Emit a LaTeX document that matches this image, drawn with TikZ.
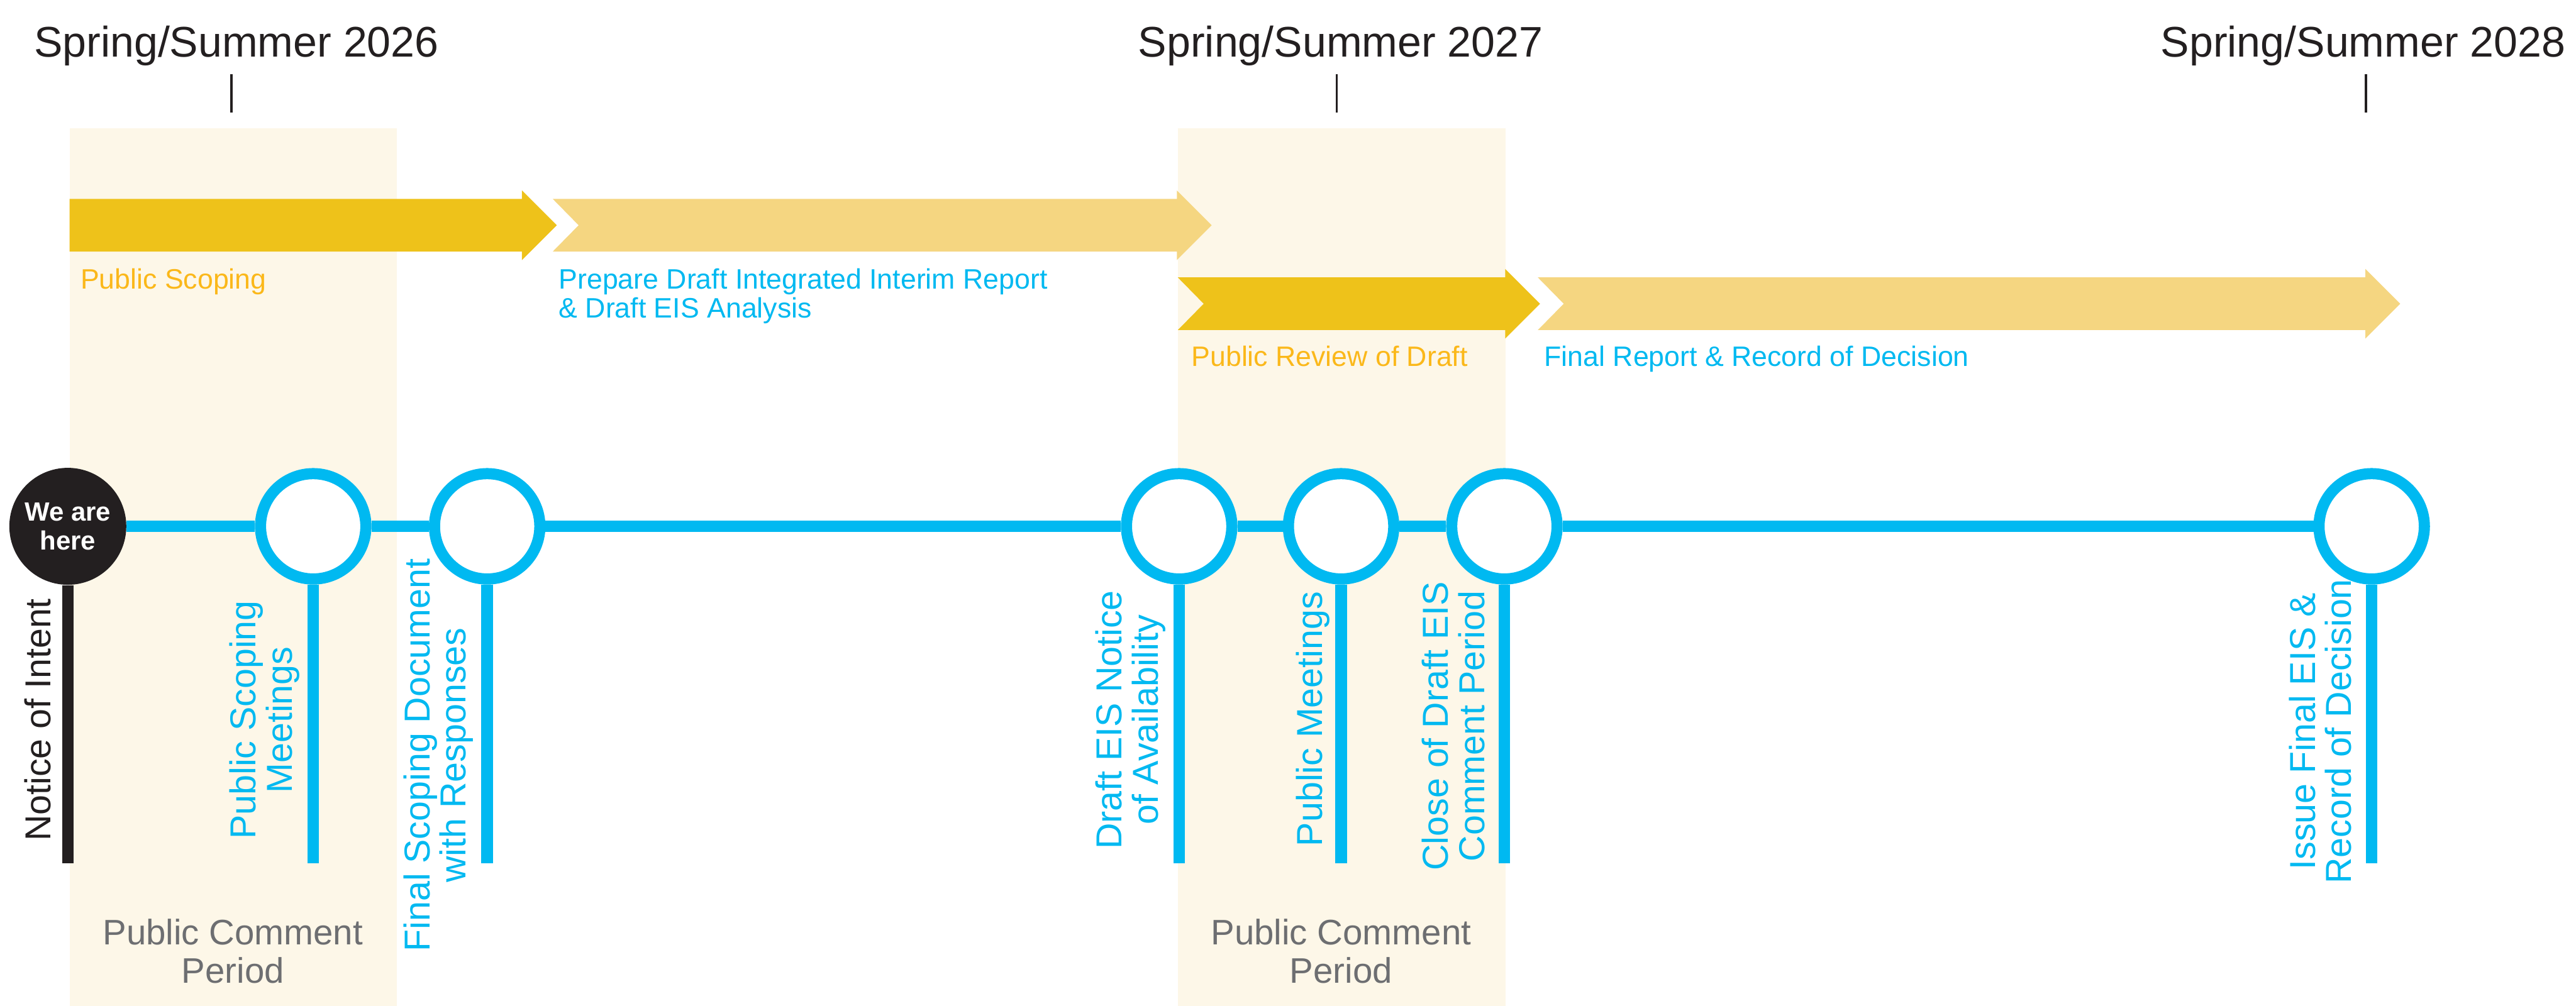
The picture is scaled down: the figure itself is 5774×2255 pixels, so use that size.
\documentclass[tikz,border=0pt]{standalone}
\usepackage{fontspec}
\setmainfont{Liberation Sans}
\usetikzlibrary{calc}

\definecolor{trackblue}{HTML}{00B9F1}
\definecolor{phasedark}{HTML}{EEC21A}
\definecolor{phaselight}{HTML}{F5D681}
\definecolor{phasetext}{HTML}{FBB81A}
\definecolor{commentshade}{HTML}{FDF7E8}
\definecolor{commentgray}{HTML}{6D6E71}
\definecolor{inkblack}{HTML}{231F20}

% phase bar: [fill](left x : head base x : centre y : notch depth)
\def\phasebar[#1](#2:#3:#4:#5){\fill[#1] (#2,#4-59) -- (#3,#4-59) -- (#3,#4-78) -- (#3+78,#4) -- (#3,#4+78) -- (#3,#4+59) -- (#2,#4+59) -- (#2+#5,#4) -- cycle;}

\tikzset{
	ring/.style={circle, draw=trackblue, line width=0.25cm, fill=white, minimum size=2.36cm, inner sep=0pt},
	here/.style={circle, fill=inkblack, minimum size=2.62cm, inner sep=0pt, text=white, align=center, font=\bfseries\fontsize{16.8}{18.5}\selectfont},
	track/.style={trackblue, line width=0.26cm},
	stem/.style={trackblue, line width=0.26cm},
	milestone/.style={rotate=90, anchor=north, inner sep=0pt, align=center, text=trackblue, font=\fontsize{23}{23}\selectfont},
	phaselabel/.style={anchor=base west, inner sep=0pt, align=left, font=\fontsize{17.9}{18.2}\selectfont},
	season/.style={anchor=base, inner sep=0pt, text=inkblack, font=\fontsize{27.3}{30}\selectfont},
	seasontick/.style={inkblack, line width=0.05cm},
	commentlabel/.style={anchor=north, inner sep=0pt, align=center, text=commentgray, font=\fontsize{22.6}{24.2}\selectfont},
}

\begin{document}
\begin{tikzpicture}[x=0.01cm, y=-0.01cm]
		%%%%% START %%%%%
		\fill[white] (0,0) rectangle (5774,2255);
		\useasboundingbox (0,0) rectangle (5774,2255);
		
		% comment periods
		\fill[commentshade] (156,288) rectangle (889,2255);
		\fill[commentshade] (2640,288) rectangle (3375,2255);
		
		% seasons
		\node[season] (s26) at (530,127) {Spring/Summer 2026};
		\node[season] (s27) at (3005,127) {Spring/Summer 2027};
		\node[season] (s28) at (5297,127) {Spring/Summer 2028};
		\coordinate (tick26) at (519,167);
		\coordinate (tick27) at (2996,167);
		\coordinate (tick28) at (5303,167);
		\foreach \t in {tick26,tick27,tick28}
			\draw[seasontick] (\t) -- ++(0,86);
		
		% phases
		\phasebar[phasedark](156:1170:505:0)
		\phasebar[phaselight](1239:2638:505:58)
		\phasebar[phasedark](2640:3374:681:58)
		\phasebar[phaselight](3447:5302:681:58)
		
		\node[phaselabel, text=phasetext] (ps) at (180,648) {Public Scoping};
		\node[phaselabel, text=trackblue, anchor=north west] (pd) at (1252,602) {Prepare Draft Integrated Interim Report\\\& Draft EIS Analysis};
		\node[phaselabel, text=phasetext] (pr) at (2670,821) {Public Review of Draft};
		\node[phaselabel, text=trackblue] (fr) at (3461,821) {Final Report \& Record of Decision};
		
		% timeline
		\coordinate (foot) at (0,1935);
		\node[here] (c0) at (152,1180) {We are\\here};
		\foreach \n/\x in {1/702,2/1092,3/2643,4/3006,5/3372,6/5316}
			\node[ring] (c\n) at (\x,1180) {};
		\foreach \a/\b in {0/1,1/2,2/3,3/4,4/5,5/6}
			\draw[track] (c\a) -- (c\b);
		\draw[stem, inkblack] (c0.south) -- (c0.south |- foot);
		\foreach \n in {1,...,6}
			\draw[stem] (c\n.south) -- (c\n.south |- foot);
		
		\node[milestone, text=inkblack] (m0) at (54,1614) {Notice of Intent};
		\node[milestone] (m1) at (514,1614) {Public Scoping\\Meetings};
		\node[milestone] (m2) at (904,1693) {Final Scoping Document\\with Responses};
		\node[milestone] (m3) at (2455,1614) {Draft EIS Notice\\of Availability};
		\node[milestone] (m4) at (2904,1612) {Public Meetings};
		\node[milestone] (m5) at (3187,1628) {Close of Draft EIS\\Comment Period};
		\node[milestone] (m6) at (5130,1640) {Issue Final EIS \&\\Record of Decision};
		
		\node[commentlabel] (pc1) at (522,2060) {Public Comment\\Period};
		\node[commentlabel] (pc2) at (3006,2060) {Public Comment\\Period};
		%%%%% END %%%%%
\end{tikzpicture}
\end{document}
